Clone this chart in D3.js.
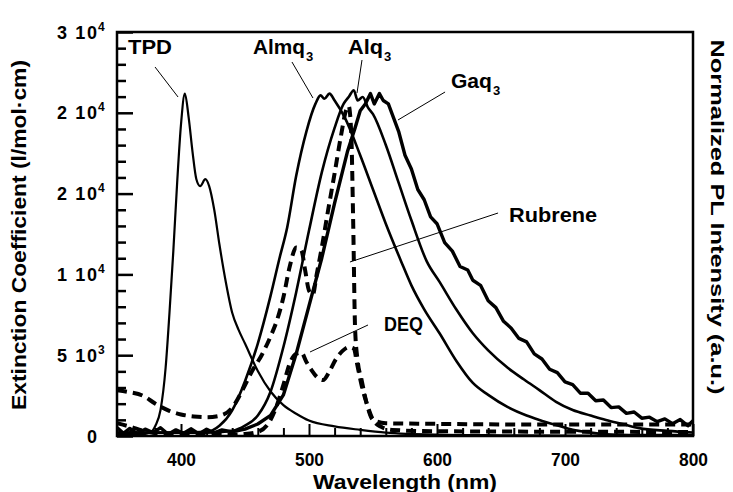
<!DOCTYPE html>
<html><head><meta charset="utf-8">
<script src="https://cdn.jsdelivr.net/npm/d3@7/dist/d3.min.js"></script>
<style>
body{margin:0;background:#fff}
svg{display:block}
text{font-family:"Liberation Sans",Arial,Helvetica,sans-serif;font-weight:bold;fill:#000}
</style>
</head><body>
<svg id="chart" width="733" height="492"></svg>
<script>
// ---------- data ----------
const xTicksMajor = [400, 500, 600, 700, 800];
const xTickLabels = ["400", "500", "600", "700", "800"];
const yTickValues = [0, 6000, 12000, 18000, 24000, 30000];
const yTickMantissa = ["0", "5", "1", "2", "2", "3"];
const yTickExponent = ["", "3", "4", "4", "4", "4"];

// PL spectra (normalized)
const tpdWl = [350,370,376,380,384,388,391,394,397,400,403,406,409,412,415,419,422,426,430,435,440,445,450,460,470,480,490,500,520,540,560,600,650,700,800];
const tpdPL = [0.005,0.005,0.01,0.03,0.076,0.2,0.36,0.54,0.74,0.91,1.0,0.93,0.83,0.75,0.73,0.75,0.73,0.66,0.56,0.45,0.36,0.31,0.27,0.19,0.13,0.09,0.065,0.045,0.028,0.018,0.01,0.004,0.002,0.001,0];

const almqWl = [350,400,420,430,440,450,460,470,477,483,490,498,505,509,512,516,520,528,540,550,560,572,580,590,602,615,628,640,655,670,680,695,706,720,732,750,800];
const almqPL = [0.01,0.01,0.012,0.03,0.075,0.16,0.27,0.41,0.52,0.61,0.76,0.89,0.97,0.995,0.985,1.0,0.98,0.93,0.82,0.72,0.62,0.51,0.44,0.37,0.30,0.22,0.155,0.12,0.085,0.06,0.047,0.03,0.018,0.01,0.005,0.003,0.003];

const alqWl = [350,420,440,450,460,470,480,490,500,510,520,527,531,535,538,542,546,550,560,570,580,592,602,615,628,640,655,668,680,693,706,720,732,745,758,780,800];
const alqPL = [0.01,0.01,0.015,0.03,0.06,0.13,0.26,0.42,0.6,0.77,0.9,0.97,0.99,1.01,0.98,0.99,0.96,0.94,0.85,0.74,0.63,0.51,0.45,0.37,0.30,0.25,0.2,0.165,0.134,0.1,0.076,0.06,0.047,0.035,0.023,0.015,0.01];

const gaqWl = [350,355,360,366,372,378,384,390,396,402,408,414,420,426,432,440,450,460,470,480,490,500,510,520,530,536,540,544,548,551,555,558,562,566,570,575,580,585,590,595,600,606,612,618,624,628,634,640,646,652,658,664,670,676,682,688,694,700,706,712,718,724,730,736,742,748,754,760,766,772,778,784,790,796,800];
const gaqPL = [0.025,0.008,0.022,0.006,0.02,0.01,0.024,0.005,0.018,0.008,0.021,0.006,0.02,0.009,0.018,0.012,0.02,0.035,0.06,0.12,0.24,0.38,0.52,0.68,0.83,0.90,0.95,0.97,1.0,0.97,1.0,0.98,0.97,0.93,0.89,0.82,0.78,0.72,0.69,0.64,0.62,0.565,0.54,0.495,0.485,0.455,0.44,0.395,0.375,0.335,0.315,0.285,0.275,0.24,0.225,0.195,0.185,0.158,0.15,0.125,0.125,0.103,0.105,0.083,0.085,0.066,0.07,0.052,0.055,0.042,0.05,0.036,0.048,0.03,0.045];

// Absorption (extinction coefficient, l/mol·cm)
const rubWl = [350,360,370,380,390,400,410,420,430,440,448,456,463,470,475,480,485,490,494,497,500,503,506,510,515,520,525,529,531,533,534.5,536,538,541,545,550,560,600,700,800];
const rubExt = [3400,3250,3000,2400,1900,1600,1450,1400,1500,2100,3400,4900,6000,7400,8600,10300,12600,14000,13800,12300,10800,10500,12000,14000,16800,19500,22300,24200,24500,22500,16000,8000,5600,4200,2450,1200,950,900,850,850];

const deqWl = [350,360,370,380,400,430,450,460,470,475,480,485,490,494,498,502,506,511,516,521,526,531,535,537.5,541,545,550,556,565,600,800];
const deqExt = [950,700,400,200,80,80,150,300,1200,2300,3800,5400,6100,6200,5500,4900,4400,4150,4800,5700,6300,6600,6500,5400,3800,2450,1200,700,450,350,300];

// annotations: label, subscript, text anchor (wl, ext), leader from (wl, ext) to (wl, ext)
const annLabels = ["TPD", "Almq", "Alq", "Gaq", "Rubrene", "DEQ"];
const annSubs = ["", "3", "3", "3", "", ""];
const annTextWl = [358.6, 456.3, 530.5, 610.9, 656.3, 558.6];
const annTextExt = [28366, 28366, 28366, 25841, 15891, 7797];
const annWidth = [44, 52, 35, 41, 88, 39];
const annFromWl = [379.7, 486.7, 541.4, 606.3, 647.7, 546.1];
const annFromExt = [27401, 27772, 27921, 25544, 16559, 8243];
const annToWl = [397.7, 503.1, 537.5, 569.5, 532.0, 500.8];
const annToExt = [25173, 25099, 25470, 23465, 12921, 6238];

// ---------- drawing ----------
const W = 733, H = 492;
const m = {left: 117, right: 40, top: 32, bottom: 56};
const svg = d3.select("#chart");
const x = d3.scaleLinear().domain([350, 800]).range([m.left, W - m.right]);
const y = d3.scaleLinear().domain([0, 30000]).range([H - m.bottom, m.top]);
const yPL = d3.scaleLinear().domain([0, 1.18]).range([H - m.bottom, m.top]);

svg.append("defs").append("clipPath").attr("id", "clip")
  .append("rect").attr("x", m.left).attr("y", m.top)
  .attr("width", W - m.right - m.left).attr("height", H - m.bottom - m.top);

const g = svg.append("g").attr("clip-path", "url(#clip)");

function plLine(wl, v, sw, curve) {
  const pts = wl.map((w, i) => [w, v[i]]);
  g.append("path").datum(pts)
    .attr("fill", "none").attr("stroke", "#000").attr("stroke-width", sw)
    .attr("stroke-linejoin", "round")
    .attr("d", d3.line().x(d => x(d[0])).y(d => yPL(d[1])).curve(curve || d3.curveMonotoneX));
}
function absLine(wl, v) {
  const pts = wl.map((w, i) => [w, v[i]]);
  g.append("path").datum(pts)
    .attr("fill", "none").attr("stroke", "#000").attr("stroke-width", 4)
    .attr("stroke-dasharray", "10,6")
    .attr("d", d3.line().x(d => x(d[0])).y(d => y(d[1])).curve(d3.curveMonotoneX));
}

plLine(tpdWl, tpdPL, 2.2);
plLine(almqWl, almqPL, 2.6);
plLine(alqWl, alqPL, 2.6);
plLine(gaqWl, gaqPL, 3.4, d3.curveLinear);
absLine(rubWl, rubExt);
absLine(deqWl, deqExt);

// frame
svg.append("rect").attr("x", m.left).attr("y", m.top)
  .attr("width", W - m.right - m.left).attr("height", H - m.bottom - m.top)
  .attr("fill", "none").attr("stroke", "#000").attr("stroke-width", 2.5);

// x axis
const xAxis = d3.axisBottom(x).tickValues(xTicksMajor).tickSizeInner(-12).tickSizeOuter(0)
  .tickFormat((d, i) => xTickLabels[i]).tickPadding(17);
const gx = svg.append("g").attr("transform", `translate(0,${H - m.bottom})`).call(xAxis);
gx.select(".domain").remove();
gx.selectAll(".tick line").attr("stroke-width", 2);
gx.selectAll("text").attr("font-size", 18).attr("font-family", "Liberation Sans, Arial, sans-serif")
  .attr("font-weight", "bold").attr("fill", "#000").attr("textLength", 29).attr("lengthAdjust", "spacingAndGlyphs");
const xMinor = d3.range(360, 800, 20).filter(v => v % 100 !== 0);
const gxm = svg.append("g").attr("transform", `translate(0,${H - m.bottom})`)
  .call(d3.axisBottom(x).tickValues(xMinor).tickSizeInner(-8).tickSizeOuter(0).tickFormat(""));
gxm.select(".domain").remove();
gxm.selectAll(".tick line").attr("stroke-width", 2);

// y axis
const yAxis = d3.axisLeft(y).tickValues(yTickValues).tickSizeInner(-16).tickSizeOuter(0).tickFormat("");
const gy = svg.append("g").attr("transform", `translate(${m.left},0)`).call(yAxis);
gy.select(".domain").remove();
gy.selectAll(".tick line").attr("stroke-width", 2.5);
const yMinor = d3.range(1200, 30000, 1200).filter(v => v % 6000 !== 0);
const gym = svg.append("g").attr("transform", `translate(${m.left},0)`)
  .call(d3.axisLeft(y).tickValues(yMinor).tickSizeInner(-9).tickSizeOuter(0).tickFormat(""));
gym.select(".domain").remove();
gym.selectAll(".tick line").attr("stroke-width", 2.5);

yTickValues.forEach((v, i) => {
  const ty = y(v) + 6.5;
  const t = svg.append("text").attr("x", 97).attr("y", ty)
    .attr("text-anchor", "end").attr("font-size", 18)
    .text(yTickExponent[i] ? yTickMantissa[i] + " 10" : yTickMantissa[i]);
  if (yTickExponent[i]) {
    t.attr("textLength", 40).attr("lengthAdjust", "spacing");
    svg.append("text").attr("x", 98).attr("y", ty - 8).attr("font-size", 12)
      .text(yTickExponent[i]);
  }
});

// axis titles
svg.append("text").attr("x", 405).attr("y", 489)
  .attr("text-anchor", "middle").attr("font-size", 20)
  .attr("textLength", 184).attr("lengthAdjust", "spacingAndGlyphs").text("Wavelength (nm)");
svg.append("text").attr("transform", `translate(26,235) rotate(-90)`)
  .attr("text-anchor", "middle").attr("font-size", 20)
  .attr("textLength", 350).attr("lengthAdjust", "spacingAndGlyphs").text("Extinction Coefficient (l/mol\u00B7cm)");
svg.append("text").attr("transform", `translate(711,217) rotate(90)`)
  .attr("text-anchor", "middle").attr("font-size", 19)
  .attr("textLength", 355).attr("lengthAdjust", "spacingAndGlyphs").text("Normalized PL Intensity (a.u.)");

// annotations
annLabels.forEach((lab, i) => {
  svg.append("line")
    .attr("x1", x(annFromWl[i])).attr("y1", y(annFromExt[i]))
    .attr("x2", x(annToWl[i])).attr("y2", y(annToExt[i]))
    .attr("stroke", "#000").attr("stroke-width", 1);
  const tx = x(annTextWl[i]), ty = y(annTextExt[i]);
  svg.append("text").attr("x", tx).attr("y", ty)
    .attr("font-size", 20).attr("textLength", annWidth[i]).attr("lengthAdjust", "spacingAndGlyphs")
    .text(lab);
  if (annSubs[i]) svg.append("text").attr("x", tx + annWidth[i] + 1).attr("y", ty + 7)
    .attr("font-size", 13).text(annSubs[i]);
});
</script>
</body></html>
